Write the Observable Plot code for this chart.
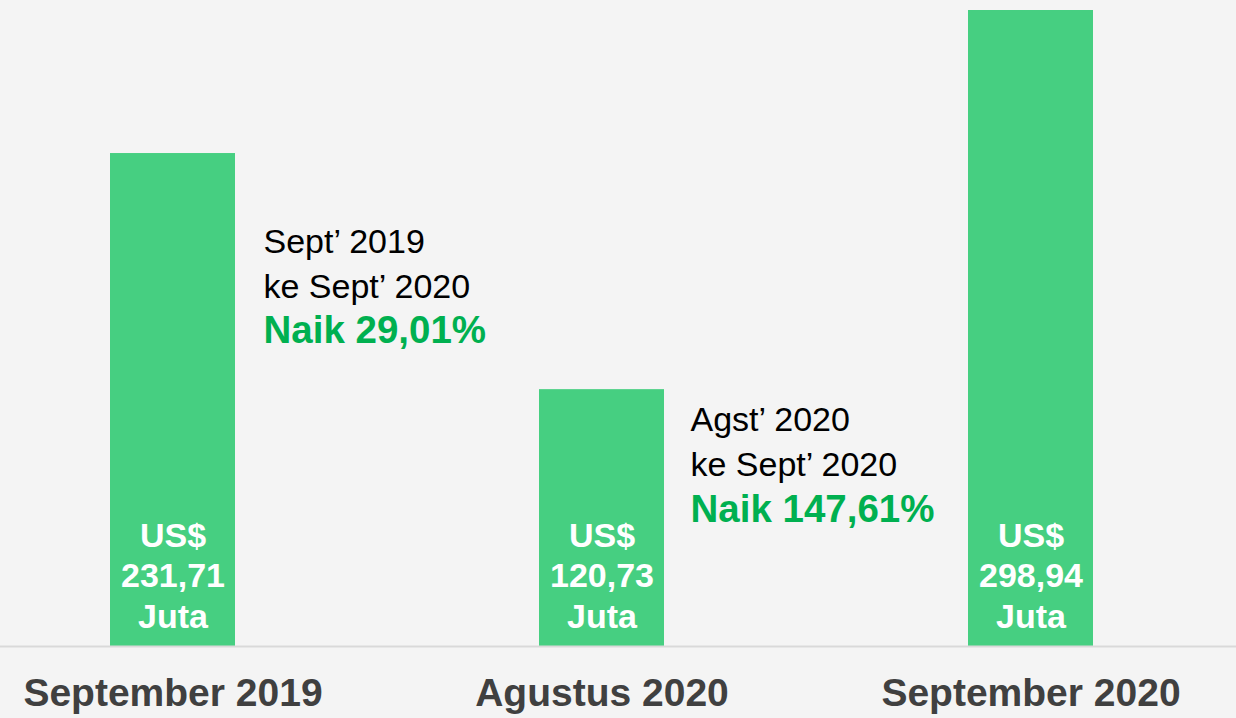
<!DOCTYPE html>
<html>
<head>
<meta charset="utf-8">
<script src="https://cdn.jsdelivr.net/npm/d3@7"></script>
<script src="https://cdn.jsdelivr.net/npm/@observablehq/plot@0.6"></script>
<style>
  html, body { margin: 0; padding: 0; background: #f4f4f4; }
  #wrap { width: 1236px; height: 718px; overflow: hidden; }
</style>
</head>
<body>
<div id="wrap"></div>
<script>
const periods = ["September 2019", "Agustus 2020", "September 2020"];
const values = [231.71, 120.73, 298.94];
const valueLabels = ["231,71", "120,73", "298,94"];
const annFrom = ["Sept’ 2019", "Agst’ 2020"];
const annTo = ["ke Sept’ 2020", "ke Sept’ 2020"];
const annPct = ["Naik 29,01%", "Naik 147,61%"];
const annBar = [0, 1];

const data = periods.map((p, i) => ({period: p, value: values[i], label: `US$\n${valueLabels[i]}\nJuta`}));
const ann = annBar.map((b, i) => ({period: periods[b], value: values[b], head: `${annFrom[i]}\n${annTo[i]}`, pct: annPct[i]}));

const font = "'Liberation Sans', Arial, Helvetica, sans-serif";
const green = "#46cf81";
const accent = "#00b050";

const chart = Plot.plot({
  width: 1236,
  height: 718,
  marginTop: 10,
  marginBottom: 72,
  marginLeft: 0,
  marginRight: 0,
  style: {background: "#f4f4f4", fontFamily: font},
  x: {domain: periods, range: [23, 1180.1], paddingInner: 0.709, paddingOuter: 0.2, axis: null},
  y: {domain: [0, 298.94], axis: null},
  marks: [
    Plot.barY(data, {x: "period", y: "value", fill: green}),
    Plot.ruleY([0], {stroke: "#d9d9d9", strokeWidth: 2}),
    Plot.text(data, {x: "period", y: 0, text: "label", lineAnchor: "bottom", dy: -19,
      fill: "white", fontSize: 34, fontWeight: "bold", lineHeight: 1.19}),
    Plot.text([ann[0]], {x: "period", y: "value", text: "head", textAnchor: "start", lineAnchor: "bottom",
      dx: 90.5, dy: 144, fill: "black", fontSize: 34, lineHeight: 1.3}),
    Plot.text([ann[0]], {x: "period", y: "value", text: "pct", textAnchor: "start", lineAnchor: "bottom",
      dx: 90.5, dy: 189, fill: accent, fontSize: 38.5, fontWeight: "bold"}),
    Plot.text([ann[1]], {x: "period", y: "value", text: "head", textAnchor: "start", lineAnchor: "bottom",
      dx: 88.5, dy: 86, fill: "black", fontSize: 34, lineHeight: 1.3}),
    Plot.text([ann[1]], {x: "period", y: "value", text: "pct", textAnchor: "start", lineAnchor: "bottom",
      dx: 88.5, dy: 132, fill: accent, fontSize: 38.5, fontWeight: "bold"}),
    Plot.axisX({tickSize: 0, tickPadding: 32, fontSize: 39, fontWeight: "bold", fill: "#404040", label: null})
  ]
});
document.getElementById("wrap").appendChild(chart);
</script>
</body>
</html>
